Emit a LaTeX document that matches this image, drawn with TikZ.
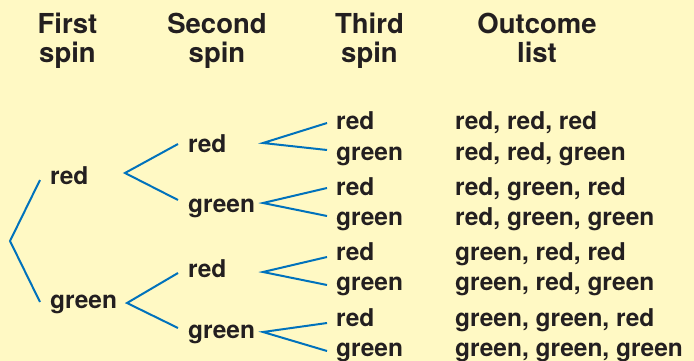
\documentclass[tikz,border=0pt]{standalone}
\usepackage{fontspec}
\setmainfont{TeX Gyre Heros}
\definecolor{bg}{RGB}{255,249,196}
\definecolor{ink}{RGB}{35,31,32}
\definecolor{branch}{RGB}{0,114,188}
\begin{document}
\begin{tikzpicture}[x=1pt,y=-1pt,
  lbl/.style={anchor=base west, inner sep=0pt, text=ink, font=\fontsize{24.5}{29}\selectfont\bfseries},
  hdr/.style={anchor=base, inner sep=0pt, text=ink, font=\fontsize{27.5}{30}\selectfont\bfseries},
  edge/.style={draw=branch, line width=2pt}]
\fill[bg] (0,0) rectangle (694,361);
\useasboundingbox (0,0) rectangle (694,361);
% headers
\node[hdr] (h1a) at (67.5,34) {First};
\node[hdr] (h1b) at (67.5,63) {spin};
\node[hdr] (h2a) at (217,34) {Second};
\node[hdr] (h2b) at (217,63) {spin};
\node[hdr] (h3a) at (369.5,34) {Third};
\node[hdr] (h3b) at (369.5,63) {spin};
\node[hdr] (h4a) at (537,34) {Outcome};
\node[hdr] (h4b) at (537,63) {list};
% first spin
\node[lbl] (r) at (50,184) {red};
\node[lbl] (g) at (50,308) {green};
% second spin
\node[lbl] (rr) at (188,152) {red};
\node[lbl] (rg) at (188,212) {green};
\node[lbl] (gr) at (188,277) {red};
\node[lbl] (gg) at (188,338) {green};
% third spin
\node[lbl] (rrr) at (336,129) {red};
\node[lbl] (rrg) at (336,160) {green};
\node[lbl] (rgr) at (336,195) {red};
\node[lbl] (rgg) at (336,225) {green};
\node[lbl] (grr) at (336,260) {red};
\node[lbl] (grg) at (336,290) {green};
\node[lbl] (ggr) at (336,326) {red};
\node[lbl] (ggg) at (336,356) {green};
% outcomes
\node[lbl] (o1) at (455,129) {red, red, red};
\node[lbl] (o2) at (455,160) {red, red, green};
\node[lbl] (o3) at (455,195) {red, green, red};
\node[lbl] (o4) at (455,225) {red, green, green};
\node[lbl] (o5) at (455,260) {green, red, red};
\node[lbl] (o6) at (455,290) {green, red, green};
\node[lbl] (o7) at (455,326) {green, green, red};
\node[lbl] (o8) at (455,356) {green, green, green};
% branch coordinates
\coordinate (root) at (10,241);
\coordinate (rIn) at (40,180);
\coordinate (gIn) at (40,302);
\coordinate (rOut) at (125,173);
\coordinate (gOut) at (127,303);
\coordinate (rrIn) at (178,144);
\coordinate (rgIn) at (178,200);
\coordinate (grIn) at (178,273);
\coordinate (ggIn) at (178,328);
\coordinate (rrOut) at (263,143);
\coordinate (rgOut) at (263,203);
\coordinate (grOut) at (263,272);
\coordinate (ggOut) at (263,332);
\coordinate (rrrIn) at (327,123);
\coordinate (rrgIn) at (327,150);
\coordinate (rgrIn) at (327,188);
\coordinate (rggIn) at (327,216);
\coordinate (grrIn) at (327,257);
\coordinate (grgIn) at (327,285);
\coordinate (ggrIn) at (327,323);
\coordinate (gggIn) at (327,351);
% connectors
\draw[edge] (rIn) -- (root) -- (gIn);
\draw[edge] (rrIn) -- (rOut) -- (rgIn);
\draw[edge] (grIn) -- (gOut) -- (ggIn);
\draw[edge] (rrrIn) -- (rrOut) -- (rrgIn);
\draw[edge] (rgrIn) -- (rgOut) -- (rggIn);
\draw[edge] (grrIn) -- (grOut) -- (grgIn);
\draw[edge] (ggrIn) -- (ggOut) -- (gggIn);
\end{tikzpicture}
\end{document}
